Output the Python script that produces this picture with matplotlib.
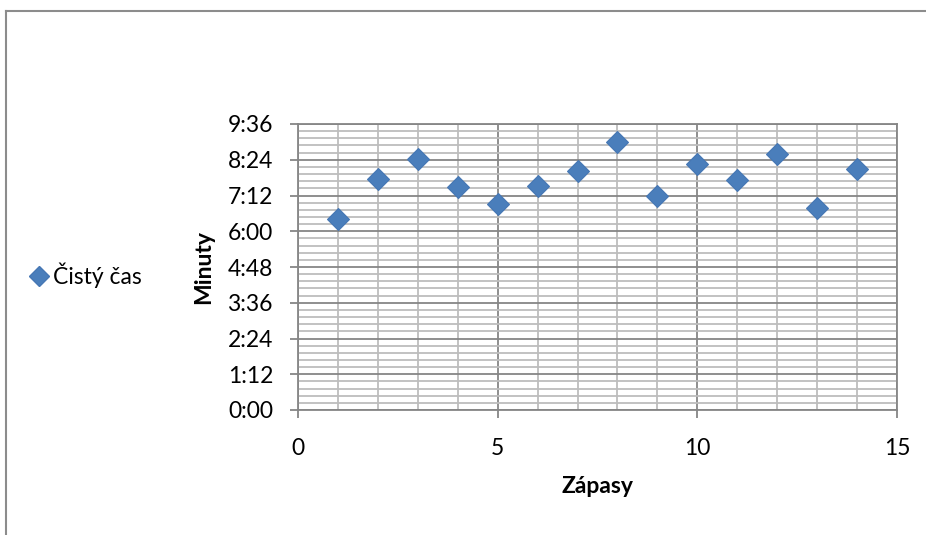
import matplotlib
matplotlib.use("Agg")
import matplotlib.pyplot as plt
from matplotlib.ticker import MultipleLocator, FuncFormatter
from matplotlib.lines import Line2D

plt.rcParams['font.family'] = ['Lato', 'DejaVu Sans']

# Data: match number and net playing time (m:ss)
matches = [1, 2, 3, 4, 5, 6, 7, 8, 9, 10, 11, 12, 13, 14]
net_time = ["6:25", "7:46", "8:26", "7:29", "6:55", "7:32", "8:02",
            "9:00", "7:12", "8:15", "7:44", "8:36", "6:47", "8:06"]
series_name = "Čistý čas"

def to_sec(s):
    m, ss = s.split(":")
    return int(m) * 60 + int(ss)

seconds = [to_sec(s) for s in net_time]

W, H = 926, 535
fig = plt.figure(figsize=(W / 100, H / 100), dpi=100)
ax = fig.add_axes([298 / W, 1 - 410 / H, (897 - 298) / W, (410 - 124) / H])

major_c = "#868686"
minor_c = "#bdbdbd"

ax.set_xlim(0, 15)
ax.set_ylim(0, 576)
ax.xaxis.set_major_locator(MultipleLocator(5))
ax.xaxis.set_minor_locator(MultipleLocator(1))
ax.yaxis.set_major_locator(MultipleLocator(72))
ax.yaxis.set_minor_locator(MultipleLocator(14.4))
ax.yaxis.set_major_formatter(FuncFormatter(lambda v, p: f"{int(round(v)) // 60}:{int(round(v)) % 60:02d}"))

ax.grid(which="minor", color=minor_c, linewidth=1.3, zorder=0)
ax.grid(which="major", color=major_c, linewidth=1.3, zorder=0)
ax.set_axisbelow(True)

for side in ["left", "bottom", "right", "top"]:
    ax.spines[side].set_color(major_c)
    ax.spines[side].set_linewidth(1.3)

ax.tick_params(which="major", direction="out", length=6, width=1.3, color=major_c,
               labelsize=16.5, labelcolor="black")
ax.tick_params(axis="y", pad=12)
ax.tick_params(axis="x", pad=14)
ax.tick_params(which="minor", length=0)

ax.plot(matches, seconds, linestyle="none", marker="D", markersize=11,
        markerfacecolor="#4a7ebb", markeredgecolor="#4677b4", markeredgewidth=0.8,
        zorder=3, clip_on=False)

ax.set_xlabel("Zápasy", fontsize=16.5, fontweight="bold")
ax.set_ylabel("Minuty", fontsize=16.5, fontweight="bold")
ax.xaxis.set_label_coords(0.5, -(476 - 410) / 286)
ax.yaxis.set_label_coords((214 - 298) / 599, 0.5)

# legend on the left
handle = Line2D([], [], linestyle="none", marker="D", markersize=10,
                markerfacecolor="#4a7ebb", markeredgecolor="#4677b4")
fig.legend([handle], [series_name], loc="center left",
           bbox_to_anchor=(31 / W, 1 - 275 / H), frameon=False, fontsize=16.5,
           handlelength=0.7, handletextpad=0.25, borderpad=0, borderaxespad=0)

# chart-area border (top and left visible)
fig.add_artist(Line2D([6 / W, 6 / W], [0, 1 - 10.5 / H], transform=fig.transFigure,
                      color="#8c8c8c", linewidth=1.5))
fig.add_artist(Line2D([6 / W, 1], [1 - 10.5 / H, 1 - 10.5 / H], transform=fig.transFigure,
                      color="#8c8c8c", linewidth=1.5))

fig.savefig("out.png", dpi=100)
